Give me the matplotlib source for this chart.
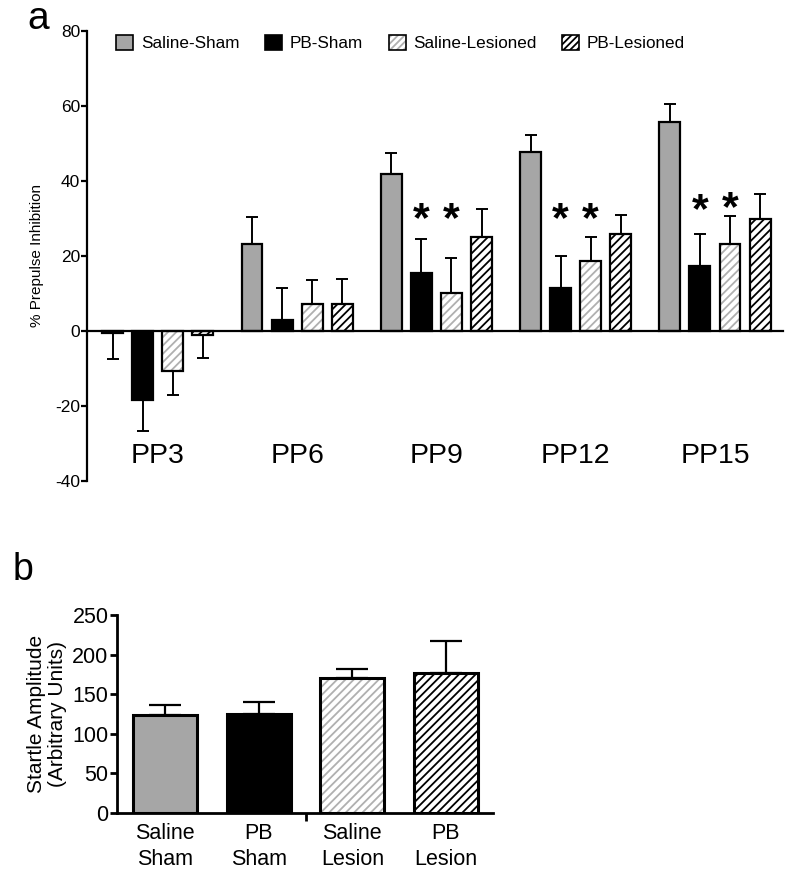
import numpy as np
import matplotlib
matplotlib.use("Agg")
from matplotlib import pyplot as plt
from matplotlib.patches import Patch

plt.rcParams['font.family'] = ['Liberation Sans', 'DejaVu Sans']
plt.rcParams['axes.unicode_minus'] = False
plt.rcParams['hatch.linewidth'] = 1.3

# panel a data
groups = ['PP3', 'PP6', 'PP9', 'PP12', 'PP15']
series = ['Saline-Sham', 'PB-Sham', 'Saline-Lesioned', 'PB-Lesioned']
saline_sham = [-0.6, 23.1, 41.8, 47.6, 55.6]
saline_sham_err = [7.0, 7.3, 5.6, 4.6, 4.8]
pb_sham = [-18.4, 2.8, 15.5, 11.3, 17.2]
pb_sham_err = [8.3, 8.5, 8.9, 8.7, 8.7]
saline_les = [-10.6, 7.1, 10.2, 18.6, 23.2]
saline_les_err = [6.4, 6.5, 9.3, 6.3, 7.3]
pb_les = [-1.0, 7.1, 25.1, 25.7, 29.8]
pb_les_err = [6.2, 6.6, 7.3, 5.2, 6.7]
# asterisks: (group, series, height)
stars = [(2, 1, 29.5), (2, 2, 29.5), (3, 1, 29.5), (3, 2, 29.5), (4, 1, 32), (4, 2, 32.5)]

# panel b data
b_labels = ['Saline\nSham', 'PB\nSham', 'Saline\nLesion', 'PB\nLesion']
b_vals = [124, 125, 171, 177]
b_err = [12, 15, 11, 40]

GRAY = '#a6a6a6'
HGRAY = '#b0b0b0'
styles = [
    dict(face=GRAY, hatch=None, hcol=None),
    dict(face='black', hatch=None, hcol=None),
    dict(face='white', hatch='////', hcol=HGRAY),
    dict(face='white', hatch='////', hcol='black'),
]


def draw_bars(ax, x, vals, st, width, lw):
    if st['hatch']:
        ax.bar(x, vals, width, color=st['face'], edgecolor=st['hcol'],
               hatch=st['hatch'], linewidth=0, zorder=2)
        ax.bar(x, vals, width, fill=False, edgecolor='black', linewidth=lw, zorder=3)
    else:
        ax.bar(x, vals, width, color=st['face'], edgecolor='black', linewidth=lw, zorder=2)


def one_sided(vals, errs):
    vals = np.array(vals)
    errs = np.array(errs)
    lower = np.where(vals < 0, errs, 0)
    upper = np.where(vals >= 0, errs, 0)
    return [lower, upper]


fig = plt.figure(figsize=(8, 8.76), dpi=100)

# ---------- panel a ----------
ax = fig.add_axes([0.109, 0.451, 0.87, 0.514])
xg = np.arange(len(groups))
pitch = 0.216
bw = 0.15
all_vals = [saline_sham, pb_sham, saline_les, pb_les]
all_errs = [saline_sham_err, pb_sham_err, saline_les_err, pb_les_err]
for i in range(4):
    xs = xg + (i - 1.5) * pitch
    ax.errorbar(xs, all_vals[i], yerr=one_sided(all_vals[i], all_errs[i]), fmt='none',
                ecolor='black', elinewidth=1.4, capsize=4, capthick=1.4, zorder=1)
    draw_bars(ax, xs, all_vals[i], styles[i], bw, 1.6)

for g, s, h in stars:
    ax.text(g + (s - 1.5) * pitch, h, '*', ha='center', va='center', fontsize=31,
            fontweight='bold')

for g, name in enumerate(groups):
    ax.text(g, -33.3, name, ha='center', va='center', fontsize=20.5)

ax.set_xlim(-0.507, 4.49)
ax.set_ylim(-40, 80)
ax.set_yticks(np.arange(-40, 81, 20))
ax.spines['top'].set_visible(False)
ax.spines['right'].set_visible(False)
ax.spines['bottom'].set_position(('data', 0))
ax.spines['left'].set_linewidth(1.6)
ax.spines['bottom'].set_linewidth(1.6)
ax.set_xticks([])
ax.tick_params(axis='y', length=4, width=1.6, labelsize=12.5, pad=1)
ax.set_ylabel('% Prepulse Inhibition', fontsize=11, labelpad=8)

handles = []
for st in styles:
    if st['hatch']:
        handles.append((Patch(facecolor=st['face'], edgecolor=st['hcol'], hatch='/////',
                              linewidth=0),
                        Patch(fill=False, edgecolor='black', linewidth=1.2)))
    else:
        handles.append(Patch(facecolor=st['face'], edgecolor='black', linewidth=1.2))
fig.legend(handles, series, loc='center left', bbox_to_anchor=(0.145, 0.951), ncol=4,
           frameon=False, fontsize=12.3, handlelength=1.0, handleheight=1.0,
           handletextpad=0.45, columnspacing=1.5, borderpad=0, borderaxespad=0)

fig.text(0.048, 0.978, 'a', fontsize=28, ha='center', va='center')

# ---------- panel b ----------
bx = fig.add_axes([0.146, 0.0719, 0.47, 0.226])
xb = np.arange(len(b_labels))
bx.errorbar(xb, b_vals, yerr=[np.zeros(4), b_err], fmt='none', ecolor='black',
            elinewidth=1.6, capsize=11.5, capthick=1.6, zorder=1)
for i in range(4):
    draw_bars(bx, xb[i:i + 1], b_vals[i:i + 1], styles[i], 0.68, 2.2)
bx.set_xlim(-0.515, 3.5)
bx.set_ylim(0, 250)
bx.set_yticks(np.arange(0, 251, 50))
bx.spines['top'].set_visible(False)
bx.spines['right'].set_visible(False)
bx.spines['left'].set_linewidth(2)
bx.spines['bottom'].set_linewidth(2)
bx.set_xticks(xb)
bx.set_xticklabels(b_labels, fontsize=15.5, linespacing=1.3)
bx.set_xticks([1.5], minor=True)
bx.tick_params(axis='x', which='major', length=0, pad=7)
bx.tick_params(axis='x', which='minor', length=6, width=2)
bx.tick_params(axis='y', length=5, width=2, labelsize=15.5, pad=1)
bx.set_ylabel('Startle Amplitude\n(Arbitrary Units)', fontsize=15, linespacing=1.1,
              labelpad=4)

fig.text(0.029, 0.349, 'b', fontsize=27, ha='center', va='center')

fig.savefig('out.png', dpi=100)
